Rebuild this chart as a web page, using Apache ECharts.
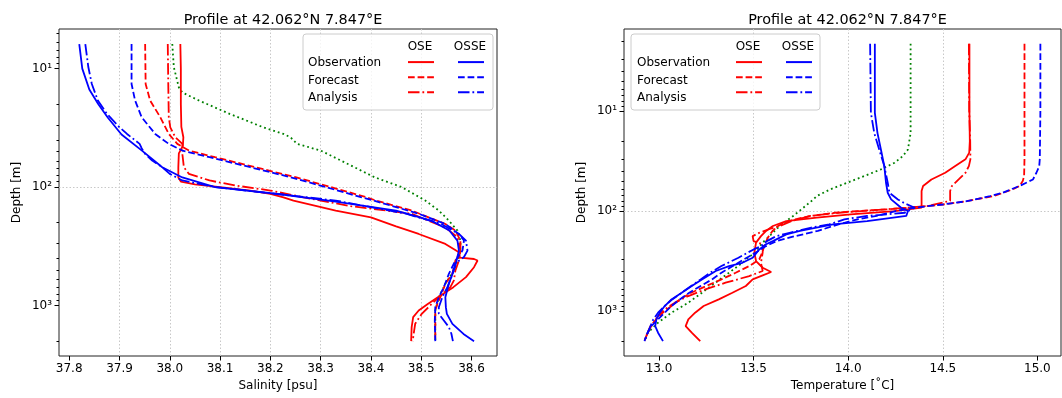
<!DOCTYPE html>
<html><head><meta charset="utf-8">
<script src="https://cdn.jsdelivr.net/npm/echarts@6/dist/echarts.min.js"></script>
<style>html,body{margin:0;padding:0;background:#fff}#c{width:1062px;height:398px}</style>
</head><body><div id="c"></div>
<script>
// ---------- DATA: [value, depth(m)] ----------
const salObsOSE  = [[38.021,6.2],[38.022,10],[38.022,20],[38.023,31],[38.027,38],[38.026,45],[38.018,52],[38.017,68],[38.017,83],[38.022,90],[38.05,95],[38.10,100],[38.16,107],[38.20,114],[38.226,122],[38.246,130],[38.33,158],[38.40,180],[38.45,215],[38.495,249],[38.548,302],[38.575,355],[38.577,395],[38.605,405],[38.612,417],[38.605,475],[38.589,576],[38.564,700],[38.533,852],[38.513,970],[38.495,1103],[38.484,1255],[38.481,1523],[38.48,2000]];
const salFcstOSE = [[37.951,6.2],[37.952,13.5],[37.961,18.6],[37.981,25.7],[37.998,35.6],[38.015,43.2],[38.038,49.2],[38.09,56],[38.17,68],[38.25,82.6],[38.32,100],[38.39,121.6],[38.41,130],[38.481,158],[38.548,205],[38.568,233],[38.578,283],[38.578,344],[38.568,417],[38.562,540],[38.548,656],[38.538,852],[38.532,970],[38.528,1103],[38.528,1523],[38.528,2000]];
const salAnaOSE  = [[37.996,6.2],[37.997,13.5],[37.998,25.7],[38.001,31.3],[38.011,38],[38.025,43.2],[38.025,52.5],[38.028,68],[38.038,77.4],[38.079,88],[38.13,97],[38.2,107],[38.266,122],[38.30,130],[38.36,145],[38.481,168],[38.548,220],[38.572,265],[38.578,344],[38.575,417],[38.568,506],[38.565,614],[38.558,700],[38.535,852],[38.521,970],[38.501,1177],[38.488,1428],[38.485,1733],[38.483,2000]];
const salObsOSSE = [[37.820,6.2],[37.826,10],[37.84,15],[37.858,20],[37.877,26],[37.904,36],[37.944,49],[37.985,68],[38.025,83],[38.09,100],[38.22,115],[38.33,133],[38.45,158],[38.52,192],[38.556,233],[38.572,284],[38.575,344],[38.567,475],[38.555,656],[38.548,851],[38.549,1033],[38.551,1176],[38.562,1429],[38.584,1738],[38.605,2000]];
const salFcstOSSE= [[37.924,6.2],[37.924,13.5],[37.931,18.6],[37.944,25.7],[37.971,35.6],[37.998,43.2],[38.025,49.2],[38.079,56],[38.16,68],[38.24,82.6],[38.31,100],[38.38,121.6],[38.405,130],[38.495,168],[38.548,205],[38.575,249],[38.585,283],[38.582,344],[38.568,417],[38.555,540],[38.545,700],[38.535,852],[38.528,1034],[38.527,1339],[38.528,2000]];
const salAnaOSSE = [[37.832,6.2],[37.838,9.7],[37.845,13.5],[37.857,18.6],[37.875,24.1],[37.9,31.3],[37.915,35.6],[37.94,43.2],[37.944,47],[37.951,52.5],[37.965,59.7],[37.985,68],[38.0,77.4],[38.025,88],[38.09,100],[38.21,114],[38.33,130],[38.47,168],[38.54,205],[38.575,249],[38.589,284],[38.592,344],[38.585,390],[38.568,440],[38.56,576],[38.552,700],[38.542,852],[38.535,1034],[38.535,1177],[38.545,1339],[38.555,1523],[38.56,1733],[38.563,2000]];
const salClim    = [[38.005,6.2],[38.008,9.7],[38.018,14.4],[38.025,15.9],[38.058,18.6],[38.119,24.1],[38.186,31.3],[38.226,35.6],[38.24,38],[38.253,43.2],[38.3,49.2],[38.367,68],[38.407,82.6],[38.461,100],[38.508,130],[38.535,158],[38.555,192],[38.572,233],[38.578,284],[38.578,344],[38.572,417],[38.565,506],[38.548,656],[38.535,852],[38.528,1103],[38.528,2000]];

const tmpObsOSE  = [[14.641,2.12],[14.641,10],[14.643,20],[14.64,26],[14.62,30.4],[14.566,35.5],[14.513,41.4],[14.44,48.3],[14.396,56.2],[14.388,63.1],[14.388,92.6],[14.245,100],[14.013,108],[13.834,116.6],[13.673,126],[13.602,141],[13.566,158],[13.539,178],[13.513,207],[13.504,261],[13.513,316],[13.548,369],[13.593,407],[13.548,440],[13.495,483],[13.459,562],[13.388,656],[13.316,765],[13.236,891],[13.191,1039],[13.155,1212],[13.141,1413],[13.173,1647],[13.218,2000]];
const tmpFcstOSE = [[14.932,2.12],[14.932,10],[14.932,30],[14.93,44.7],[14.923,50.1],[14.905,56.2],[14.87,60.7],[14.82,65.6],[14.77,70.8],[14.69,75.3],[14.62,80],[14.5,86],[14.33,92.6],[14.2,96.2],[14.05,100],[13.93,104],[13.8,112],[13.72,121],[13.66,131],[13.63,141],[13.6,158],[13.575,185],[13.56,215],[13.545,261],[13.53,304],[13.477,355],[13.405,414],[13.33,483],[13.25,562],[13.17,656],[13.11,765],[13.066,891],[13.02,1039],[12.985,1212],[12.955,1413],[12.94,1647],[12.923,2000]];
const tmpAnaOSE  = [[14.638,2.12],[14.64,10],[14.645,20],[14.646,30.4],[14.638,35.5],[14.62,41.4],[14.584,48.3],[14.548,56.2],[14.539,63.1],[14.539,79],[14.42,89],[14.2,96],[13.95,104],[13.8,112],[13.7,126],[13.64,141],[13.58,152],[13.53,165],[13.495,178],[13.486,185],[13.5,200],[13.55,215],[13.548,261],[13.539,329],[13.548,398],[13.477,447],[13.352,521],[13.245,607],[13.155,708],[13.084,825],[13.03,962],[12.995,1122],[12.959,1413],[12.932,1778],[12.923,2000]];
const tmpObsOSSE = [[14.141,2.12],[14.141,10.4],[14.155,16.6],[14.173,24.2],[14.191,35.5],[14.2,52.1],[14.209,65.6],[14.227,76.5],[14.28,92.6],[14.316,100],[14.307,112],[14.1,126],[13.92,136],[13.745,158],[13.673,171],[13.602,200],[13.566,215],[13.53,242],[13.495,293],[13.441,329],[13.37,355],[13.3,398],[13.227,483],[13.173,562],[13.12,656],[13.066,765],[13.03,891],[13.004,1039],[12.986,1212],[12.98,1413],[12.995,1647],[13.021,2000]];
const tmpFcstOSSE= [[15.016,2.12],[15.016,10],[15.013,30],[15.01,35.5],[14.995,41.4],[14.977,48.3],[14.905,56.2],[14.816,65.6],[14.75,70.8],[14.691,75.3],[14.62,80],[14.5,86],[14.35,92.6],[14.25,100],[14.15,112],[14.05,121],[13.98,131],[13.92,141],[13.84,158],[13.72,178],[13.62,200],[13.566,224],[13.51,261],[13.45,304],[13.39,355],[13.33,414],[13.28,483],[13.22,562],[13.16,656],[13.11,765],[13.066,891],[13.03,1039],[12.995,1212],[12.96,1413],[12.94,1647],[12.923,2000]];
const tmpAnaOSSE = [[14.116,2.12],[14.12,10.4],[14.138,16.6],[14.164,24.2],[14.191,35.5],[14.209,52.1],[14.218,65.6],[14.263,76.5],[14.3,84],[14.352,92.6],[14.33,97],[14.3,104],[14.1,112],[13.98,121],[13.9,136],[13.8,147],[13.69,165],[13.62,178],[13.57,200],[13.54,224],[13.5,242],[13.42,293],[13.33,355],[13.27,414],[13.22,483],[13.17,562],[13.12,656],[13.07,765],[13.03,891],[12.995,1039],[12.97,1212],[12.955,1413],[12.94,1647],[12.923,2000]];
const tmpClim    = [[14.33,2.12],[14.33,16.6],[14.316,24.2],[14.289,28.2],[14.245,32.9],[14.173,38.3],[14.084,44.7],[13.995,52.1],[13.905,60.7],[13.834,70.8],[13.816,76.5],[13.763,92.6],[13.709,112],[13.638,141],[13.584,178],[13.548,207],[13.504,261],[13.441,329],[13.37,414],[13.298,521],[13.227,656],[13.155,825],[13.066,1039],[12.995,1308],[12.941,1647],[12.923,2000]];

const salTicks = [37.8,37.9,38.0,38.1,38.2,38.3,38.4,38.5,38.6];
const tmpTicks = [13.0,13.5,14.0,14.5,15.0];
const depthTicks = [10,100,1000];
const rowLabels = ['Observation','Forecast','Analysis'];
const colLabels = ['OSE','OSSE'];
const titleText = 'Profile at 42.062°N 7.847°E';

// ---------- STYLE ----------
const FONT = 'DejaVu Sans';
const RED = '#ff0000', BLUE = '#0000ff', GREEN = '#008000';
const LW = 1.8;
const DASH = [6.7, 2.9], DASHDOT = [11.5, 2.9, 1.8, 2.9], DOT = [1.8, 3];
const sup = {1:'¹',2:'²',3:'³'};

const G = [
  {left: 59, top: 29, width: 438, height: 327},
  {left: 624, top: 29, width: 437, height: 327}
];
const yRange = [[4.63, 2670], [1.51, 2817]];
const xRange = [[37.7797, 38.6507], [12.815, 15.125]];
const xTicks = [salTicks, tmpTicks];
const xNames = ['Salinity [psu]', 'Temperature [˚C]'];
const xDec = [1, 1];

const grids = G.map(g => Object.assign({show: true, borderColor: '#222', borderWidth: 1, backgroundColor: 'transparent'}, g));

const xAxes = [0,1].map(i => ({
  type: 'value', gridIndex: i, min: xRange[i][0], max: xRange[i][1], splitNumber: i === 0 ? 8 : 5,
  name: xNames[i], nameLocation: 'middle', nameGap: 24,
  nameTextStyle: {fontFamily: FONT, fontSize: 12, color: '#000'},
  axisLine: {show: false, onZero: false},
  axisTick: {show: true, length: 4.5, customValues: xTicks[i], lineStyle: {color: '#000', width: 1}},
  axisLabel: {customValues: xTicks[i], margin: 7, fontFamily: FONT, fontSize: 12, color: '#000',
    formatter: v => v.toFixed(xDec[i])},
  splitLine: {show: true, showMinLine: false, showMaxLine: false, lineStyle: {color: '#c8c8c8', type: [1.5, 2], width: 1}}
}));

const yAxes = [0,1].map(i => ({
  type: 'log', logBase: 10, gridIndex: i, position: 'left', inverse: true, min: yRange[i][0], max: yRange[i][1],
  name: 'Depth [m]', nameLocation: 'middle', nameGap: 36,
  nameTextStyle: {fontFamily: FONT, fontSize: 12, color: '#000'},
  axisLine: {show: false, onZero: false},
  axisTick: {show: true, length: 4.5, customValues: depthTicks, lineStyle: {color: '#000', width: 1}},
  minorTick: {show: true, splitNumber: 9, length: 2.5, lineStyle: {color: '#000', width: 1}},
  axisLabel: {customValues: depthTicks, margin: 7, fontFamily: FONT, fontSize: 12, color: '#000',
    formatter: v => '10' + sup[Math.round(Math.log10(v))]},
  splitLine: {show: true, showMinLine: false, showMaxLine: false, lineStyle: {color: '#c8c8c8', type: [1.5, 2], width: 1}}
}));

function line(name, data, color, dash, gi) {
  return {
    name, type: 'line', data, xAxisIndex: gi, yAxisIndex: gi,
    showSymbol: false, symbol: 'none', smooth: false, animation: false, silent: true,
    lineStyle: {color, width: LW, type: dash}, itemStyle: {color}, z: 3
  };
}
const series = [];
[[salObsOSE, salFcstOSE, salAnaOSE, salObsOSSE, salFcstOSSE, salAnaOSSE, salClim],
 [tmpObsOSE, tmpFcstOSE, tmpAnaOSE, tmpObsOSSE, tmpFcstOSSE, tmpAnaOSSE, tmpClim]].forEach((d, gi) => {
  series.push(line('Climatology', d[6], GREEN, DOT, gi));
  series.push(line('OSE Observation', d[0], RED, 'solid', gi));
  series.push(line('OSE Forecast', d[1], RED, DASH, gi));
  series.push(line('OSE Analysis', d[2], RED, DASHDOT, gi));
  series.push(line('OSSE Observation', d[3], BLUE, 'solid', gi));
  series.push(line('OSSE Forecast', d[4], BLUE, DASH, gi));
  series.push(line('OSSE Analysis', d[5], BLUE, DASHDOT, gi));
});

// legend layout (box, text columns, icon columns)
const LG = [
  {box: [303, 34, 190, 76], textX: 308, oseX: 407, osseX: 457},
  {box: [631, 34, 189, 76], textX: 637, oseX: 735, osseX: 785}
];
const rowY0 = 63.3, rowStep = 17.5, headY = 46.7, iconW = 26, iconH = 12;

const legends = [];
const graphics = [];
LG.forEach(L => {
  graphics.push({type: 'rect', shape: {x: L.box[0], y: L.box[1], width: L.box[2], height: L.box[3], r: 3},
    style: {fill: 'rgba(255,255,255,0.8)', stroke: '#cccccc', lineWidth: 1}, z: 10});
  [L.oseX, L.osseX].forEach((cx, k) => {
    graphics.push({type: 'text', x: cx + iconW / 2, y: headY, z: 11,
      style: {text: colLabels[k], font: '12px "' + FONT + '"', fill: '#000', textAlign: 'center', textVerticalAlign: 'middle'}});
    legends.push({
      left: cx, top: rowY0 - iconH / 2, orient: 'vertical', padding: 0,
      itemWidth: iconW, itemHeight: iconH, itemGap: rowStep - iconH, z: 12,
      selectedMode: false, formatter: () => '',
      itemStyle: {opacity: 0, borderWidth: 0},
      lineStyle: {opacity: 1},
      textStyle: {fontSize: 1, lineHeight: 1, padding: 0},
      data: rowLabels.map(r => colLabels[k] + ' ' + r)
    });
  });
  rowLabels.forEach((r, j) => {
    graphics.push({type: 'text', x: L.textX, y: rowY0 + j * rowStep, z: 11,
      style: {text: r, font: '12px "' + FONT + '"', fill: '#000', textAlign: 'left', textVerticalAlign: 'middle'}});
  });
});

const titles = G.map(g => ({
  text: titleText, left: g.left + g.width / 2, top: 8, textAlign: 'center',
  textStyle: {fontFamily: FONT, fontSize: 14.4, fontWeight: 'normal', color: '#000'}
}));

const chart = echarts.init(document.getElementById('c'), null, {renderer: 'canvas'});
chart.setOption({
  animation: false,
  backgroundColor: '#fff',
  textStyle: {fontFamily: FONT},
  title: titles,
  grid: grids,
  xAxis: xAxes,
  yAxis: yAxes,
  legend: legends,
  graphic: graphics,
  series
});
</script></body></html>
